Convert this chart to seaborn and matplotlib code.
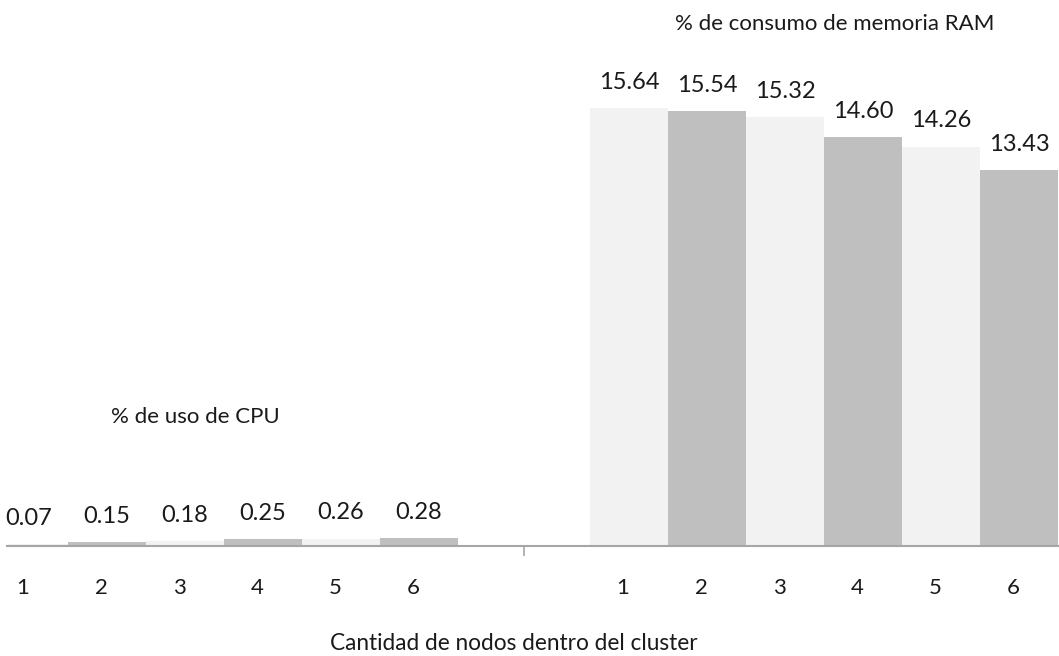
import matplotlib
matplotlib.use("Agg")
import matplotlib.pyplot as plt
import seaborn as sns
import pandas as pd
import numpy as np

# Values per metric and node count
metrics = ["% de uso de CPU", "% de consumo de memoria RAM"]
nodos = ["1", "2", "3", "4", "5", "6"]
cpu_vals = [0.07, 0.15, 0.18, 0.25, 0.26, 0.28]
ram_vals = [15.64, 15.54, 15.32, 14.60, 14.26, 13.43]
xlabel = "Cantidad de nodos dentro del cluster"

df = pd.DataFrame({
    "metrica": [metrics[0]] * len(nodos) + [metrics[1]] * len(nodos),
    "nodos": nodos * 2,
    "valor": cpu_vals + ram_vals,
})

sns.set_theme(style="white")
plt.rcParams["font.family"] = ["Lato", "DejaVu Sans"]

W, H = 1059, 656
fig = plt.figure(figsize=(W / 100, H / 100), dpi=100)
ax = fig.add_axes([7 / W, (H - 546) / H, 1 - 7 / W, 546 / H])

light, dark = "#f2f2f2", "#bfbfbf"
palette = [light if i % 2 == 0 else dark for i in range(len(nodos))]
txt = "#1a1a1a"

group_w = 0.78
sns.barplot(data=df, x="metrica", y="valor", hue="nodos", palette=palette,
            width=group_w, gap=0, ax=ax, legend=False, saturation=1,
            linewidth=0, errorbar=None)

for cont in ax.containers:
    ax.bar_label(cont, fmt="%.2f", padding=11, fontsize=17, color=txt)

ax.set_xlim(-0.3617, 1.3917)
ax.set_ylim(0, 19.5)

# node numbers under each bar
bw = group_w / len(nodos)
centers, labels = [], []
for g in range(len(metrics)):
    for k, n in enumerate(nodos):
        centers.append(g - group_w / 2 + (k + 0.5) * bw - 0.01)
        labels.append(n)
ax.set_xticks(centers)
ax.set_xticklabels(labels, fontsize=16, color=txt)
ax.tick_params(axis="x", which="major", length=0, pad=23)
ax.set_xticks([0.5], minor=True)
ax.tick_params(axis="x", which="minor", length=7, width=1.2, color="#a6a6a6",
               direction="out", bottom=True)
ax.set_yticks([])
ax.set_xlabel("")
ax.set_ylabel("")
for side in ["top", "right", "left"]:
    ax.spines[side].set_visible(False)
ax.spines["bottom"].set_color("#a6a6a6")
ax.spines["bottom"].set_linewidth(1.5)

# metric captions
fig.text(195 / W, 1 - 423 / H, metrics[0], ha="center", va="baseline",
         fontsize=16, color=txt)
fig.text(835 / W, 1 - 30 / H, metrics[1], ha="center", va="baseline",
         fontsize=16, color=txt)
fig.text(514 / W, 1 - 650 / H, xlabel, ha="center", va="baseline",
         fontsize=16.3, color=txt)

fig.savefig("out.png", dpi=100, facecolor="white")
